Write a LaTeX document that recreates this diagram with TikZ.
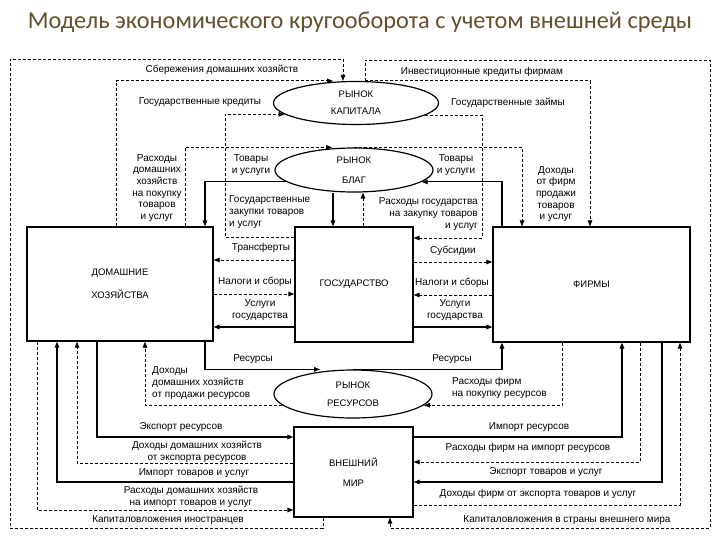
\documentclass[tikz,border=0pt]{standalone}
\usepackage{fontspec}
\setmainfont{Liberation Sans}
\newfontfamily\titlefont{Carlito}
\usetikzlibrary{arrows.meta}
\usetikzlibrary{shapes.geometric}
\definecolor{titlecol}{RGB}{100,80,45}
\tikzstyle{sector} = [rectangle, draw=black, line width=1.2pt, inner sep=0pt, align=center, font=\fontsize{9.5}{11}\selectfont]
\tikzstyle{market} = [ellipse, draw=black, line width=1.2pt, inner sep=0pt, align=center, font=\fontsize{9.5}{11}\selectfont]
\tikzstyle{real} = [line width=1.1pt, -{Triangle[length=6pt,width=4.5pt]}]
\tikzstyle{money} = [line width=0.95pt, dash pattern=on 3pt off 2pt, -{Triangle[length=6pt,width=4.5pt]}]
\tikzstyle{lbl} = [inner sep=0pt, align=center, font=\fontsize{10}{11.7}\selectfont]

\begin{document}
\begin{tikzpicture}[x=1pt, y=-1pt]
\useasboundingbox (0,0) rectangle (720,540);

% Define nodes
\node[font=\titlefont\fontsize{24.3}{28}\selectfont, text=titlecol] (title) at (360,22) {Модель экономического кругооборота с учетом внешней среды};

\node[sector, minimum width=186pt, minimum height=114pt] (hh)   at (120,284)   {ДОМАШНИЕ\\[12pt]ХОЗЯЙСТВА};
\node[sector, minimum width=118pt, minimum height=115pt] (gov)  at (354,284.5) {ГОСУДАРСТВО};
\node[sector, minimum width=197pt, minimum height=115pt] (firm) at (591.5,284.5) {ФИРМЫ};
\node[sector, minimum width=119pt, minimum height=90pt]  (fw)   at (353.5,472) {ВНЕШНИЙ\\[9pt]МИР};

\node[market, minimum width=165pt, minimum height=43pt] (km) at (356,103) {РЫНОК\\[6pt]КАПИТАЛА};
\node[market, minimum width=158pt, minimum height=44pt] (gm) at (354,170) {РЫНОК\\[9pt]БЛАГ};
\node[market, minimum width=158pt, minimum height=48pt] (rm) at (353,394) {РЫНОК\\[7pt]РЕСУРСОВ};

% Labels
\node[lbl] (lsav)   at (222,70)  {Сбережения домашних хозяйств};
\node[lbl] (linv)   at (482,72)  {Инвестиционные кредиты фирмам};
\node[lbl] (lgcr)   at (200,102) {Государственные кредиты};
\node[lbl] (lgzm)   at (508,103) {Государственные займы};
\node[lbl] (lhhexp) at (157,188) {Расходы\\домашних\\хозяйств\\на покупку\\товаров\\и услуг};
\node[lbl] (lgd1)   at (251,165) {Товары\\и услуги};
\node[lbl] (lgd2)   at (456,165) {Товары\\и услуги};
\node[lbl] (lfinc)  at (556,194) {Доходы\\от фирм\\продажи\\товаров\\и услуг};
\node[lbl, align=left, anchor=west]  (lgpur) at (229,212) {Государственные\\закупки товаров\\и услуг};
\node[lbl, align=right, anchor=east] (lgexp) at (478,214) {Расходы государства\\на закупку товаров\\и услуг};
\node[lbl] (ltr)    at (261,248) {Трансферты};
\node[lbl] (ltax1)  at (255,282) {Налоги и сборы};
\node[lbl] (lsrv1)  at (260,310) {Услуги\\государства};
\node[lbl] (lsub)   at (453,251) {Субсидии};
\node[lbl] (ltax2)  at (452,283) {Налоги и сборы};
\node[lbl] (lsrv2)  at (455,310) {Услуги\\государства};
\node[lbl] (lres1)  at (253,359) {Ресурсы};
\node[lbl] (lres2)  at (452,359) {Ресурсы};
\node[lbl, align=left, anchor=west] (lhhinc) at (152,383) {Доходы\\домашних хозяйств\\от продажи ресурсов};
\node[lbl, align=left, anchor=west] (lfres)  at (452,388) {Расходы фирм\\на покупку ресурсов};
\node[lbl] (lexres) at (181,427) {Экспорт ресурсов};
\node[lbl] (lhhei)  at (197,452) {Доходы домашних хозяйств\\от экспорта ресурсов};
\node[lbl] (limgd)  at (194,473) {Импорт товаров и услуг};
\node[lbl] (lhhimp) at (191,497) {Расходы домашних хозяйств\\на импорт товаров и услуг};
\node[lbl] (lfinv)  at (168,520) {Капиталовложения иностранцев};
\node[lbl] (limres) at (529,427) {Импорт ресурсов};
\node[lbl] (lfimp)  at (528,448) {Расходы фирм на импорт ресурсов};
\node[lbl] (lexgd)  at (546,472) {Экспорт товаров и услуг};
\node[lbl] (lfei)   at (538,494) {Доходы фирм от экспорта товаров и услуг};
\node[lbl] (labr)   at (567,520) {Капиталовложения в страны внешнего мира};

% Edges: capital market
\draw[money] (fw.south -| 323,0) |- (10,528) -- (10,59) -| (km.north -| 343,0);
\draw[money] (km.north -| 365,0) |- (710,60) |- (390,528) -- (fw.south -| 390,0);
\draw[money] (hh.north -| 116,0) |- (km.north -| 333,0);
\draw[money] (km.north -| 365,0) -| (firm.north -| 590,0);
\draw[money] (gov.west |- 0,237) -| (km.189 -| 225,0) -- (km.189);
\draw[money] (km.350) -| (482,238) -- (gov.east |- 0,238);

% Edges: goods market
\draw[money] (hh.north -| 185,0) |- (gm.north -| 332,0);
\draw[money] (gm.north) -| (firm.north -| 522,0);
\draw[real]  (gm.190) -| (hh.north -| 205,0);
\draw[real]  (firm.north -| 502,0) |- (gm.350);
\draw[real]  (gm.south -| 333,0) -- (gov.north -| 333,0);
\draw[money] (gov.north -| 363,0) -- (gm.south -| 363,0);

% Edges: government
\draw[money] (gov.west |- 0,260) -- (hh.east |- 0,260);
\draw[money] (hh.east |- 0,294)  -- (gov.west |- 0,294);
\draw[real]  (gov.west |- 0,327) -- (hh.east |- 0,327);
\draw[money] (gov.east |- 0,262) -- (firm.west |- 0,262);
\draw[money] (firm.west |- 0,295) -- (gov.east |- 0,295);
\draw[real]  (gov.east |- 0,327) -- (firm.west |- 0,327);

% Edges: resource market
\draw[real]  (hh.south -| 205,0) |- (rm.north -| 320,0);
\draw[real]  (rm.north) -| (firm.south -| 502,0);
\draw[money] (rm.189) -| (hh.south -| 145,0);
\draw[money] (firm.south -| 562,0) |- (rm.351);

% Edges: foreign world
\draw[real]  (hh.south -| 97,0) |- (fw.west |- 0,437);
\draw[money] (fw.west |- 0,463) -| (hh.south -| 77,0);
\draw[real]  (fw.west |- 0,482) -| (hh.south -| 57,0);
\draw[money] (hh.south -| 37,0) |- (fw.west |- 0,510);
\draw[real]  (fw.east |- 0,437) -| (firm.south -| 622,0);
\draw[money] (firm.south -| 640,0) |- (fw.east |- 0,462);
\draw[real]  (firm.south -| 662,0) |- (fw.east |- 0,482);
\draw[money] (fw.east |- 0,505) -| (firm.south -| 680,0);

\end{tikzpicture}
\end{document}
